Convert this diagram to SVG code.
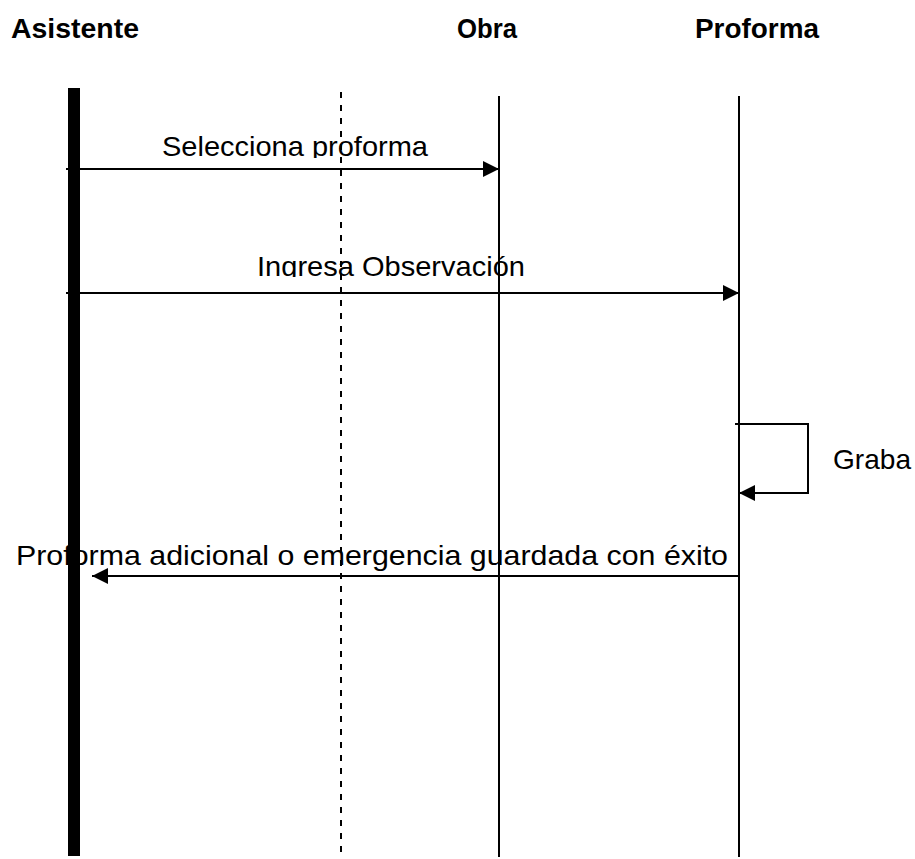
<svg xmlns="http://www.w3.org/2000/svg" width="915" height="859" viewBox="0 0 915 859">
<style>
.title{font-family:"Liberation Sans",Arial,sans-serif;font-weight:bold;font-size:27px;fill:#000}
.lbl{font-family:"Liberation Sans",Arial,sans-serif;font-size:28px;fill:#000}
.life{stroke:#000;stroke-width:2;fill:none}
.msg{stroke:#000;stroke-width:2;fill:none;marker-end:url(#ah)}
</style>
<defs>
<marker id="ah" markerUnits="userSpaceOnUse" markerWidth="16" markerHeight="16" refX="16" refY="8" orient="auto">
<path d="M0,0 L16,8 L0,16 z" fill="#000"/>
</marker>
<clipPath id="c1"><rect x="0" y="100" width="915" height="58"/></clipPath>
<clipPath id="c2"><rect x="0" y="220" width="915" height="57"/></clipPath>
</defs>
<rect width="915" height="859" fill="#fff"/>
<g id="labels">
<text class="lbl" x="162" y="156" textLength="266" lengthAdjust="spacingAndGlyphs" clip-path="url(#c1)">Selecciona proforma</text>
<text class="lbl" x="257" y="276" textLength="268" lengthAdjust="spacingAndGlyphs" clip-path="url(#c2)">Ingresa Observación</text>
<text class="lbl" x="833" y="469" textLength="78" lengthAdjust="spacingAndGlyphs">Graba</text>
<text class="lbl" x="16" y="565" textLength="712" lengthAdjust="spacingAndGlyphs">Proforma adicional o emergencia guardada con éxito</text>
</g>
<g id="asistente">
<text class="title" x="11" y="38" textLength="128" lengthAdjust="spacingAndGlyphs">Asistente</text>
<rect x="68" y="88" width="12" height="768" fill="#000"/>
</g>
<g id="interfaz">
<line x1="341" y1="92" x2="341" y2="857" stroke="#000" stroke-width="2" stroke-dasharray="6,7"/>
</g>
<g id="obra">
<text class="title" x="457" y="38" textLength="60" lengthAdjust="spacingAndGlyphs">Obra</text>
<line class="life" x1="499" y1="96" x2="499" y2="857"/>
</g>
<g id="proforma">
<text class="title" x="695" y="38" textLength="124" lengthAdjust="spacingAndGlyphs">Proforma</text>
<line class="life" x1="739" y1="96" x2="739" y2="857"/>
</g>
<g id="connectors">
<line class="msg" x1="66" y1="169" x2="499" y2="169"/>
<line class="msg" x1="66" y1="293" x2="739" y2="293"/>
<polyline class="msg" points="735,424 808,424 808,493 739,493"/>
<line class="msg" x1="739" y1="576" x2="92" y2="576"/>
</g>
</svg>
